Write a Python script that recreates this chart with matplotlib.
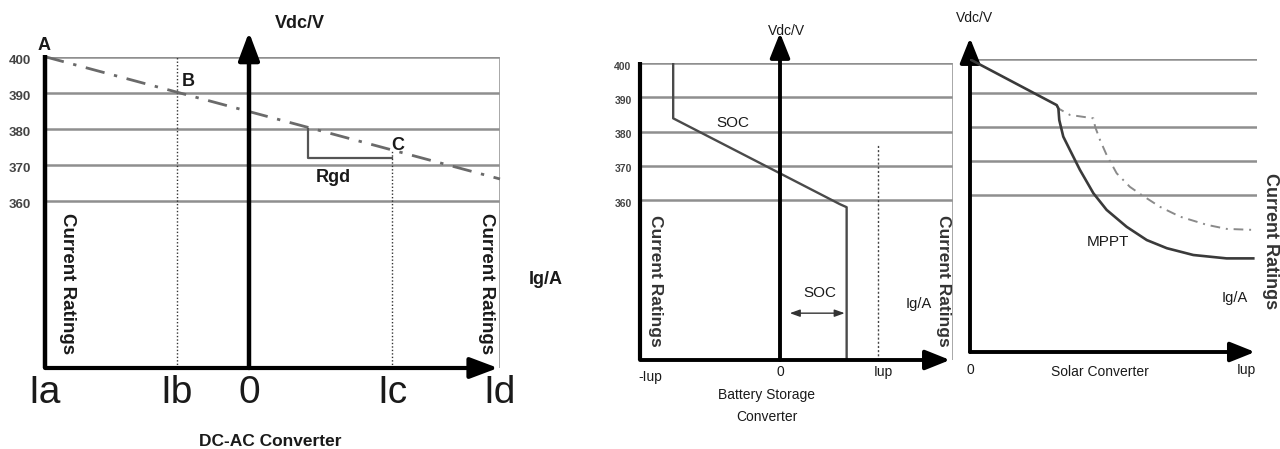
import matplotlib
matplotlib.use("Agg")
import matplotlib.pyplot as plt
from matplotlib.transforms import offset_copy

# ---------------- data ----------------
volt_levels = [400, 390, 380, 370, 360]
volt_labels = ['400', '390', '380', '370', '360']

# DC-AC converter panel
dcac_tick_labels = ['Ia', 'Ib', '0', 'Ic', 'Id']
dcac_tick_pos = [-2.04, -0.72, 0.0, 1.43, 2.51]
droop_i = [-2.04, 2.51]
droop_v = [400.0, 366.1]
rgd_i = [0.59, 0.59, 1.43]
rgd_v = [380.0, 371.9, 371.9]
dotted_i = [-0.72, 1.43]
dotted_top_v = [400.0, 374.1]

# Battery storage converter panel
bat_tick_labels = ['-Iup', '0', 'Iup']
bat_tick_pos = [-1.43, 0.0, 1.0]
soc_i = [-1.09, -1.09, 0.61, 0.68, 0.68]
soc_v = [400.0, 383.9, 358.8, 357.9, 313.2]
soc_arrow_i = [0.10, 0.66]
soc_arrow_v = 326.9
iup_line_top_v = 376.1

# Solar converter panel
sol_tick_labels = ['0', 'Iup']
sol_tick_pos = [0.0, 0.98]
mppt_i = [0.0, 0.302, 0.308, 0.311, 0.325, 0.348, 0.383, 0.430, 0.476, 0.546,
          0.616, 0.686, 0.778, 0.894, 0.987]
mppt_v = [400.0, 386.5, 385.5, 382.1, 377.2, 373.3, 367.4, 360.5, 355.6, 350.6,
          346.7, 344.3, 342.3, 341.3, 341.3]
alt_i = [0.302, 0.308, 0.348, 0.430, 0.436, 0.453, 0.476, 0.511, 0.557, 0.598,
         0.662, 0.732, 0.825, 0.894, 0.987]
alt_v = [386.5, 385.5, 383.6, 382.6, 380.1, 376.2, 371.8, 366.4, 362.4, 360.0,
         356.5, 353.6, 351.2, 350.0, 349.7]

# ---------------- figure ----------------
W, H = 1280, 449
fig = plt.figure(figsize=(W / 100, H / 100), dpi=100)
FONT = ['Liberation Sans', 'DejaVu Sans']
NARROW = ['Liberation Sans Narrow', 'Liberation Sans', 'DejaVu Sans']
GRID = '#8f8f8f'
TXT = '#1a1a1a'


def add_axes_px(l, r, t, b):
    ax = fig.add_axes([l / W, 1 - b / H, (r - l) / W, (b - t) / H])
    ax.set_axis_off()
    return ax


def ftext(x, y, s, **kw):
    kw.setdefault('ha', 'center')
    kw.setdefault('va', 'center')
    kw.setdefault('color', TXT)
    fig.text(x / W, 1 - y / H, s, **kw)


def arrow(ax, x0, y0, x1, y1, lw=2.6, hl=0.85, hw=0.32, ms=20):
    ax.annotate('', xy=(x1, y1), xytext=(x0, y0), annotation_clip=False,
                arrowprops=dict(arrowstyle=f'-|>,head_length={hl},head_width={hw}',
                                lw=lw, color='black', mutation_scale=ms,
                                shrinkA=0, shrinkB=0))


# ================= Panel 1: DC-AC converter =================
ax1 = add_axes_px(45, 500, 56.7, 368)
x0, x1 = dcac_tick_pos[0], dcac_tick_pos[-1]
ax1.set_xlim(x0, x1)
ax1.set_ylim(313.7, 400)
yb = 313.7
ax1.hlines(volt_levels, x0, x1, color=GRID, lw=1.8, zorder=1)
ax1.vlines(x1, yb, 400, color='#9a9a9a', lw=1.2, zorder=1)
for xi, vt in zip(dotted_i, dotted_top_v):
    ax1.vlines(xi, yb, vt, color='#333333', lw=1.0, linestyles=(0, (1, 1.5)), zorder=2)
ax1.plot(droop_i, droop_v, color='#6a6a6a', lw=2.0,
         linestyle=(0, (7, 3.5, 1.2, 3.5)), zorder=3, clip_on=False)
ax1.plot(rgd_i, rgd_v, color='#555555', lw=1.6, zorder=3)
ax1.plot([x0, x0], [yb, 400.4], color='black', lw=3.2, zorder=5,
         solid_capstyle='butt', clip_on=False)
arrow(ax1, x0, yb, 2.49, yb, lw=3.0)
arrow(ax1, 0.0, yb, 0.0, 406.8, lw=3.2)

tr = offset_copy(ax1.transData, fig=fig, x=-25, y=-4.5, units='dots')
for v, s in zip(volt_levels, volt_labels):
    ax1.text(x0, v, s, transform=tr, ha='center', va='center', fontsize=9.5,
             fontweight='bold', color='#444444', family=NARROW)
tr = offset_copy(ax1.transData, fig=fig, x=0, y=-25, units='dots')
for p, s in zip(dcac_tick_pos, dcac_tick_labels):
    ax1.text(p, yb, s, transform=tr, ha='center', va='center', fontsize=28,
             color=TXT, family=FONT)

ftext(300, 23, 'Vdc/V', fontsize=13, fontweight='bold', family=FONT)
ftext(44, 45, 'A', fontsize=13, fontweight='bold', family=FONT)
ftext(188, 82, 'B', fontsize=13, fontweight='bold', family=FONT)
ftext(398, 145, 'C', fontsize=13, fontweight='bold', family=FONT)
ftext(333, 178, 'Rgd', fontsize=13, fontweight='bold', family=FONT)
ftext(546, 279, 'Ig/A', fontsize=13, fontweight='bold', family=FONT)
ftext(67, 284, 'Current Ratings', rotation=-90, fontsize=13.5, fontweight='bold', family=FONT)
ftext(487, 284, 'Current Ratings', rotation=-90, fontsize=13.5, fontweight='bold', family=FONT)
ftext(270, 442, 'DC-AC Converter', fontsize=12.5, fontweight='bold', family=FONT)

# ================= Panel 2: Battery storage converter =================
ax2 = add_axes_px(640, 953, 63.3, 360)
bx0, bx1 = -1.4286, 1.7653
ax2.set_xlim(bx0, bx1)
ax2.set_ylim(313.2, 400)
yb2 = 313.2
ax2.hlines(volt_levels, bx0, bx1, color=GRID, lw=1.8, zorder=1)
ax2.vlines(bx1, yb2, 400, color='#9a9a9a', lw=1.2, zorder=1)
ax2.vlines(bat_tick_pos[2], yb2, iup_line_top_v, color='#444444', lw=1.0,
           linestyles=(0, (1.5, 1.5)), zorder=2)
ax2.plot(soc_i, soc_v, color='#4a4a4a', lw=1.7, zorder=3)
ax2.annotate('', xy=(soc_arrow_i[0], soc_arrow_v), xytext=(soc_arrow_i[1], soc_arrow_v),
             arrowprops=dict(arrowstyle='<|-|>,head_length=0.5,head_width=0.18',
                             lw=1.0, color='#333333', mutation_scale=12,
                             shrinkA=0, shrinkB=0))
ax2.plot([bx0, bx0], [yb2, 400.4], color='black', lw=3.0, zorder=5,
         solid_capstyle='butt', clip_on=False)
arrow(ax2, bx0, yb2, 1.735, yb2, lw=2.8, hl=0.75, hw=0.3, ms=20)
arrow(ax2, 0.0, yb2, 0.0, 408.9, lw=2.8, hl=0.75, hw=0.3, ms=20)

tr = offset_copy(ax2.transData, fig=fig, x=-17, y=-3.5, units='dots')
for v, s in zip(volt_levels, volt_labels):
    ax2.text(bx0, v, s, transform=tr, ha='center', va='center', fontsize=7.5,
             fontweight='bold', color='#444444', family=NARROW)
offs = [(10, -17), (0, -12), (5, -12)]
for p, s, (dx, dy) in zip(bat_tick_pos, bat_tick_labels, offs):
    tr = offset_copy(ax2.transData, fig=fig, x=dx, y=dy, units='dots')
    ax2.text(p, yb2, s, transform=tr, ha='center', va='center', fontsize=10,
             color=TXT, family=NARROW)

ftext(787, 31, 'Vdc/V', fontsize=10, family=NARROW)
ftext(733, 123, 'SOC', fontsize=11, family=NARROW)
ftext(820, 293, 'SOC', fontsize=11, family=NARROW)
ftext(919, 304, 'Ig/A', fontsize=10.5, family=NARROW)
ftext(655, 281, 'Current Ratings', rotation=-90, fontsize=12.5, fontweight='bold', family=FONT, color='#333333')
ftext(944, 281, 'Current Ratings', rotation=-90, fontsize=12.5, fontweight='bold', family=FONT, color='#333333')
ftext(767, 395, 'Battery Storage', fontsize=10, family=NARROW)
ftext(767, 417, 'Converter', fontsize=10, family=NARROW)

# ================= Panel 3: Solar converter =================
ax3 = add_axes_px(970, 1257, 59.3, 352)
ax3.set_xlim(0, 1)
ax3.set_ylim(313.7, 400)
yb3 = 313.7
ax3.hlines(volt_levels, 0, 1.0, color=GRID, lw=1.8, zorder=1)
ax3.vlines(1.003, yb3, 400, color='#9a9a9a', lw=1.2, zorder=1)
ax3.plot(alt_i, alt_v, color='#8a8a8a', lw=1.4,
         linestyle=(0, (5, 3, 1, 3)), zorder=3)
ax3.plot(mppt_i, mppt_v, color='#3a3a3a', lw=1.9, zorder=4)
arrow(ax3, 0.0, yb3, 0.993, yb3, lw=2.8, hl=0.75, hw=0.3, ms=20)
arrow(ax3, 0.0, yb3, 0.0, 406.3, lw=2.8, hl=0.75, hw=0.3, ms=20)

offs = [(0, -18), (-5, -18)]
for p, s, (dx, dy) in zip(sol_tick_pos, sol_tick_labels, offs):
    tr = offset_copy(ax3.transData, fig=fig, x=dx, y=dy, units='dots')
    ax3.text(p, yb3, s, transform=tr, ha='center', va='center', fontsize=10,
             color=TXT, family=NARROW)

ftext(975, 18, 'Vdc/V', fontsize=10, family=NARROW)
ftext(1108, 242, 'MPPT', fontsize=11, family=NARROW)
ftext(1235, 298, 'Ig/A', fontsize=10.5, family=NARROW)
ftext(1270, 241, 'Current Ratings', rotation=-90, fontsize=13, fontweight='bold', family=FONT, color='#333333')
ftext(1100, 372, 'Solar Converter', fontsize=10, family=NARROW)

fig.savefig('out.png', dpi=100, facecolor='white')
